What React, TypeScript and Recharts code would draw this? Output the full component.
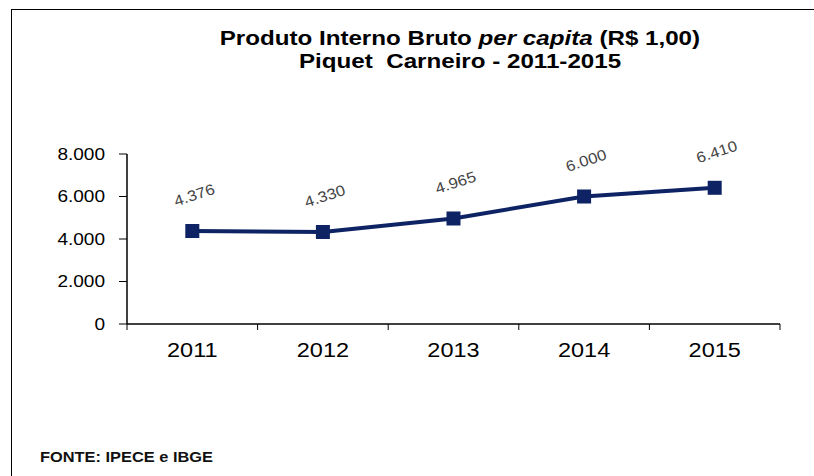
import React from "react";
import { LineChart, Line, XAxis, YAxis } from "recharts";

const years = ["2011", "2012", "2013", "2014", "2015"];
const pibPerCapita = [4376, 4330, 4965, 6000, 6410];
const yTicks = [0, 2000, 4000, 6000, 8000];

const data = years.map((year, i) => ({ year, value: pibPerCapita[i] }));

const NAVY = "#0d2364";
const FONT = "Liberation Sans, Arial, sans-serif";
const W = 814;
const H = 476;
const LEFT = 127;
const RIGHT = 34;
const HALF_BAND = (W - LEFT - RIGHT) / years.length / 2;
// the source image is slightly stretched horizontally
const SX = 1.12;

const fmt = (v: number) => v.toLocaleString("de-DE");

function SquareDot({ cx, cy }: { cx?: number; cy?: number }) {
	if (cx == null || cy == null) return null;
	return <rect x={cx - 7} y={cy - 7} width={14} height={14} fill={NAVY} />;
}

function ValueLabel({ x, y, value }: { x?: number; y?: number; value?: number }) {
	if (x == null || y == null || value == null) return null;
	return (
		<text
			transform={`translate(${x + 2} ${y - 36}) rotate(-18) scale(${SX} 1)`}
			textAnchor="middle"
			dominantBaseline="central"
			fontSize={15}
			fill="#444"
			fontFamily={FONT}
		>
			{fmt(value)}
		</text>
	);
}

function YearTick({ x, y, payload, index }: any) {
	return (
		<g>
			<line x1={x - HALF_BAND} y1={y} x2={x - HALF_BAND} y2={y + 6} stroke="#000" />
			{index === years.length - 1 && (
				<line x1={x + HALF_BAND} y1={y} x2={x + HALF_BAND} y2={y + 6} stroke="#000" />
			)}
			<text
				transform={`translate(${x} ${y + 33}) scale(${SX} 1)`}
				textAnchor="middle"
				fontSize={21}
				fill="#000"
				fontFamily={FONT}
			>
				{payload.value}
			</text>
		</g>
	);
}

function ValueTick({ x, y, payload }: any) {
	return (
		<text
			transform={`translate(${x} ${y}) scale(${SX} 1)`}
			textAnchor="end"
			dominantBaseline="central"
			fontSize={17}
			fill="#000"
			fontFamily={FONT}
		>
			{fmt(payload.value)}
		</text>
	);
}

const stretch: React.CSSProperties = {
	display: "inline-block",
	transform: `scaleX(${SX})`,
	whiteSpace: "pre",
};

export default function App() {
	return (
		<div
			style={{
				position: "absolute",
				left: 0,
				top: 0,
				width: W,
				height: H,
				background: "#fff",
				fontFamily: FONT,
			}}
		>
			<div
				style={{
					position: "absolute",
					left: 11,
					top: 9,
					width: W - 11,
					height: H - 9,
					borderTop: "1.5px solid #000",
					borderLeft: "1.5px solid #000",
				}}
			/>
			<div
				style={{
					position: "absolute",
					left: 0,
					width: 920,
					top: 26,
					textAlign: "center",
					fontWeight: "bold",
					fontSize: 21,
					lineHeight: "23px",
					color: "#000",
				}}
			>
				<div>
					<span style={{ ...stretch, transform: "scaleX(1.15)" }}>
						Produto Interno Bruto <i>per capita</i> (R$ 1,00)
					</span>
				</div>
				<div>
					<span style={{ ...stretch, transform: "scaleX(1.15)" }}>Piquet  Carneiro - 2011-2015</span>
				</div>
			</div>
			<div
				style={{
					position: "absolute",
					left: 40,
					top: 449,
					fontWeight: "bold",
					fontSize: 14,
					color: "#111",
				}}
			>
				<span style={{ ...stretch, transform: "scaleX(1.17)", transformOrigin: "left center" }}>
					FONTE: IPECE e IBGE
				</span>
			</div>
			<LineChart
				width={W}
				height={H}
				data={data}
				margin={{ top: 154, right: RIGHT, bottom: 112, left: 0 }}
				style={{ position: "absolute", left: 0, top: 0 }}
			>
				<XAxis
					dataKey="year"
					height={40}
					padding={{ left: HALF_BAND, right: HALF_BAND }}
					axisLine={{ stroke: "#000", strokeWidth: 1.5 }}
					tickLine={false}
					tickSize={0}
					tickMargin={0}
					tick={<YearTick />}
					interval={0}
				/>
				<YAxis
					width={LEFT}
					domain={[0, 8000]}
					ticks={yTicks}
					axisLine={{ stroke: "#000", strokeWidth: 1.5 }}
					tickLine={{ stroke: "#000" }}
					tickSize={8}
					tickMargin={14}
					tick={<ValueTick />}
				/>
				<Line
					type="linear"
					dataKey="value"
					stroke={NAVY}
					strokeWidth={4}
					dot={<SquareDot />}
					activeDot={false}
					label={<ValueLabel />}
					isAnimationActive={false}
				/>
			</LineChart>
		</div>
	);
}
